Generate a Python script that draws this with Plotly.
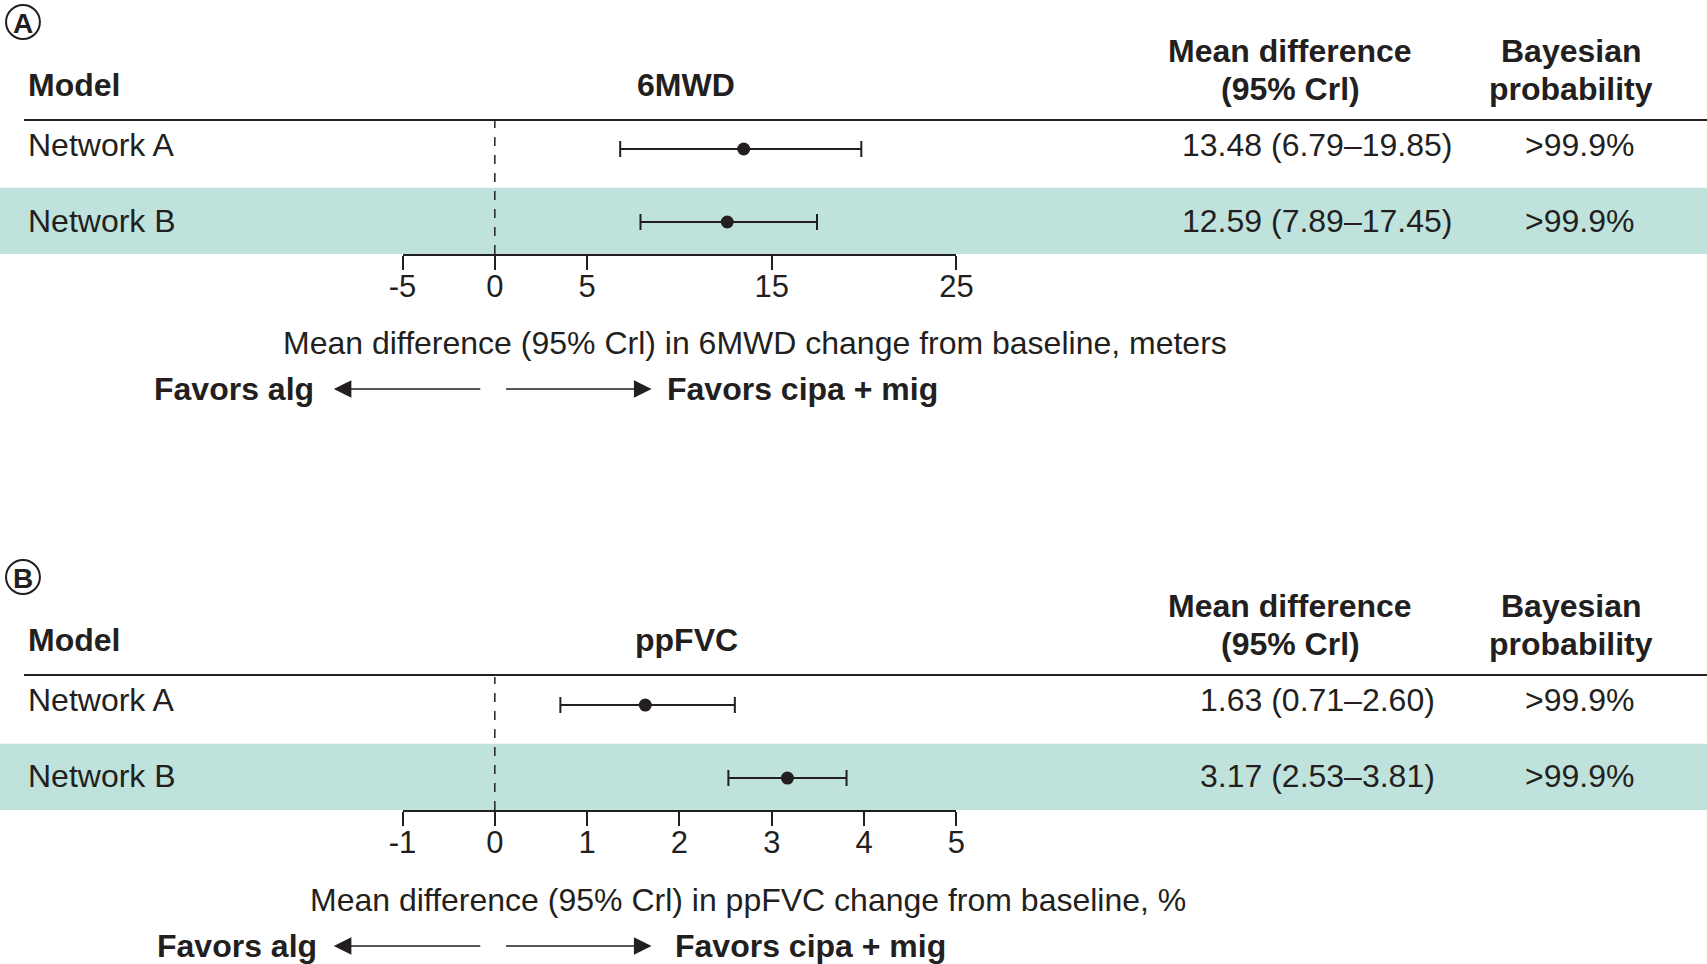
import plotly.graph_objects as go

W, H = 1707, 964
# the page photo is squeezed slightly horizontally; compensate target pixel positions
SQ, SHIFT = 0.9856, 12.0

# ---------------- data ----------------
models = ["Network A", "Network B"]
mwd_mean = [13.48, 12.59]
mwd_low = [6.79, 7.89]
mwd_high = [19.85, 17.45]
mwd_prob = [">99.9%", ">99.9%"]
mwd_ticks = [-5, 0, 5, 15, 25]
mwd_ticktext = ["-5", "0", "5", "15", "25"]

fvc_mean = [1.63, 3.17]
fvc_low = [0.71, 2.53]
fvc_high = [2.60, 3.81]
fvc_prob = [">99.9%", ">99.9%"]
fvc_ticks = [-1, 0, 1, 2, 3, 4, 5]
fvc_ticktext = ["-1", "0", "1", "2", "3", "4", "5"]

FONT = "Liberation Sans, Arial, Helvetica, sans-serif"
TXT = "#231f20"
BAND = "#bfe3dc"
FS = 32


def py(p):
    return 1 - p / H


def px(p):
    return ((p - SHIFT) / SQ) / W


fig = go.Figure()

row_y = [1, 0]  # Network A on top, Network B below


def add_panel(mean, low, high, xa, ya):
    fig.add_trace(go.Scatter(
        x=mean, y=row_y, mode="markers",
        marker=dict(size=13, color=TXT),
        error_x=dict(type="data", symmetric=False,
                     array=[h - m for h, m in zip(high, mean)],
                     arrayminus=[m - l for m, l in zip(mean, low)],
                     color=TXT, thickness=2, width=8),
        xaxis=xa, yaxis=ya, showlegend=False, hoverinfo="skip"))


add_panel(mwd_mean, mwd_low, mwd_high, "x", "y")
add_panel(fvc_mean, fvc_low, fvc_high, "x2", "y2")

xdom = [px(402), px(958)]
axis_common = dict(showgrid=False, zeroline=False, showline=True, linecolor=TXT,
                   linewidth=2, ticks="outside", ticklen=14, tickwidth=2, tickcolor=TXT,
                   ticklabelstandoff=-10,
                   tickfont=dict(size=FS - 1, color=TXT, family=FONT), fixedrange=True)
yaxis_common = dict(visible=False, showgrid=False, zeroline=False, fixedrange=True)

fig.update_layout(
    width=W, height=H, autosize=False,
    margin=dict(l=0, r=0, t=0, b=0),
    paper_bgcolor="white", plot_bgcolor="rgba(0,0,0,0)",
    font=dict(family=FONT, color=TXT, size=FS),
    xaxis=dict(domain=xdom, range=[-5, 25], tickvals=mwd_ticks, ticktext=mwd_ticktext,
               anchor="y", **axis_common),
    yaxis=dict(domain=[py(254), py(120)], range=[-0.438, 1.397], anchor="x", **yaxis_common),
    xaxis2=dict(domain=xdom, range=[-1, 5], tickvals=fvc_ticks, ticktext=fvc_ticktext,
                anchor="y2", **axis_common),
    yaxis2=dict(domain=[py(810), py(677)], range=[-0.438, 1.384], anchor="x2", **yaxis_common),
)

shapes = []
annos = []


def txt(text, x, y, xanchor="center", bold=False, size=FS):
    annos.append(dict(text=f"<b>{text}</b>" if bold else text, x=px(x), y=py(y),
                      xref="paper", yref="paper", xanchor=xanchor, yanchor="middle",
                      showarrow=False, font=dict(size=size, color=TXT, family=FONT)))


def panel_decor(letter, top, yref, xref, outcome, vals, probs, axis_title, title_x, favors_y,
                alg_right, cipa_left):
    cy = top
    shapes.append(dict(type="circle", xref="paper", yref="paper",
                       x0=px(4), x1=px(38), y0=py(cy + 17), y1=py(cy - 17),
                       line=dict(color=TXT, width=2)))
    txt(letter, 21, cy + 1, bold=True, size=28)
    hdr = top + 63
    txt("Model", 24, hdr, xanchor="left", bold=True)
    txt(outcome, 687, hdr, bold=True)
    txt("Mean difference", 1293, hdr - 34, bold=True)
    txt("(95% Crl)", 1293, hdr + 4, bold=True)
    txt("Bayesian", 1575, hdr - 34, bold=True)
    txt("probability", 1575, hdr + 4, bold=True)
    line_y = top + 98
    shapes.append(dict(type="line", xref="paper", yref="paper", x0=px(22), x1=1.03,
                       y0=py(line_y), y1=py(line_y), line=dict(color=TXT, width=2)))
    shapes.append(dict(type="rect", xref="paper", yref=yref, x0=-0.03, x1=1.03,
                       y0=-0.438, y1=0.47, fillcolor=BAND, line=dict(width=0), layer="below"))
    shapes.append(dict(type="line", xref=xref, yref=yref + " domain", x0=0, x1=0, y0=0, y1=1,
                       line=dict(color=TXT, width=1.5, dash="dash"), layer="above"))
    rows_y = [top + 123, top + 199]
    for name, v, p, ry in zip(models, vals, probs, rows_y):
        txt(name, 24, ry, xanchor="left")
        txt(v, 1320, ry)
        txt(p, 1583, ry)
    txt(axis_title, title_x, favors_y - 46)
    txt("Favors alg", alg_right, favors_y, xanchor="right", bold=True)
    txt("Favors cipa + mig", cipa_left, favors_y, xanchor="left", bold=True)
    annos.append(dict(x=px(333), y=py(favors_y), xref="paper", yref="paper", text="",
                      showarrow=True, ax=148, ay=0, axref="pixel", ayref="pixel",
                      arrowhead=2, arrowsize=2.2, arrowwidth=1.6, arrowcolor=TXT))
    annos.append(dict(x=px(652), y=py(favors_y), xref="paper", yref="paper", text="",
                      showarrow=True, ax=-147, ay=0, axref="pixel", ayref="pixel",
                      arrowhead=2, arrowsize=2.2, arrowwidth=1.6, arrowcolor=TXT))


vals_a = [f"{m:.2f} ({l:.2f}–{h:.2f})" for m, l, h in zip(mwd_mean, mwd_low, mwd_high)]
vals_b = [f"{m:.2f} ({l:.2f}–{h:.2f})" for m, l, h in zip(fvc_mean, fvc_low, fvc_high)]

panel_decor("A", 22, "y", "x", "6MWD", vals_a, mwd_prob,
            "Mean difference (95% Crl) in 6MWD change from baseline, meters", 756, 389, 315, 665)
panel_decor("B", 577, "y2", "x2", "ppFVC", vals_b, fvc_prob,
            "Mean difference (95% Crl) in ppFVC change from baseline, %", 749, 946, 318, 674)

fig.update_layout(shapes=shapes, annotations=annos)
fig.write_html("out.html")
